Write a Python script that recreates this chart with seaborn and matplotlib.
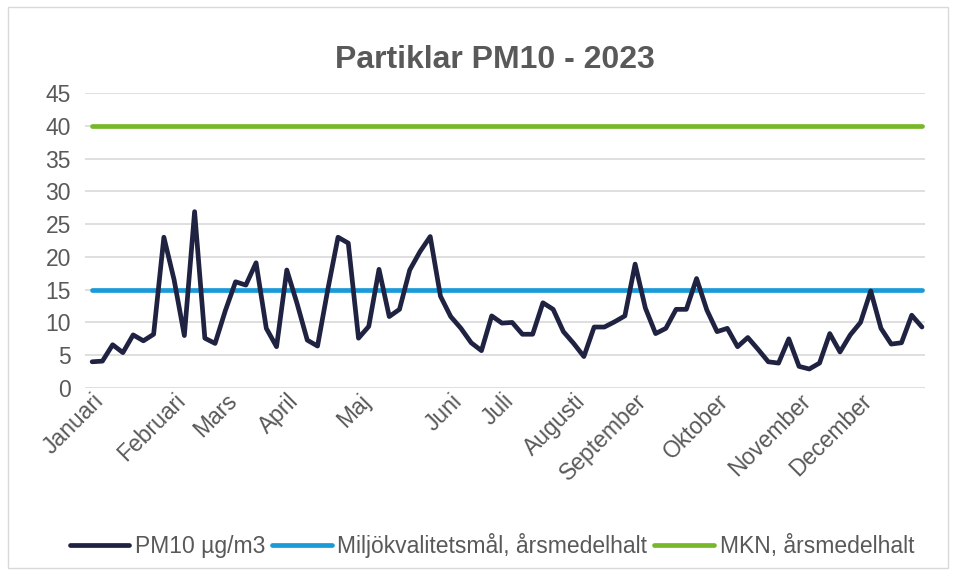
import numpy as np
import pandas as pd
import matplotlib.pyplot as plt
import seaborn as sns
from matplotlib.lines import Line2D
from matplotlib.patches import Rectangle

# PM10 readings (µg/m3)
pm10 = [4.0, 4.1, 6.6, 5.4, 8.1, 7.2, 8.2, 23.0, 16.5, 8.0,
        26.9, 7.6, 6.8, 11.8, 16.2, 15.7, 19.1, 9.1, 6.3, 18.0,
        12.9, 7.3, 6.4, 15.0, 23.0, 22.1, 7.6, 9.4, 18.1, 10.9,
        12.0, 18.0, 20.8, 23.1, 14.0, 10.9, 9.1, 6.9, 5.7, 11.0,
        9.9, 10.0, 8.2, 8.2, 13.0, 12.0, 8.6, 6.8, 4.8, 9.3,
        9.3, 10.1, 11.0, 18.9, 12.2, 8.3, 9.1, 12.0, 12.0, 16.7,
        11.9, 8.6, 9.1, 6.3, 7.7, 5.9, 4.0, 3.8, 7.5, 3.3,
        2.9, 3.8, 8.3, 5.5, 8.1, 10.0, 14.8, 9.1, 6.7, 6.9,
        11.1, 9.3]
miljomal = 15
mkn = 40

months = ["Januari", "Februari", "Mars", "April", "Maj", "Juni", "Juli",
          "Augusti", "September", "Oktober", "November", "December"]
month_idx = [0, 8, 13, 19, 26, 35, 40, 47, 53, 61, 69, 75]

labels = ["PM10 µg/m3", "Miljökvalitetsmål, årsmedelhalt", "MKN, årsmedelhalt"]
colors = ["#1F2241", "#1A9AD7", "#77B82A"]

n = len(pm10)
df = pd.DataFrame({
    "idx": np.tile(np.arange(n), 3),
    "value": pm10 + [miljomal] * n + [mkn] * n,
    "serie": np.repeat(labels, n),
})

sns.set_style("white")
plt.rcParams["font.family"] = ["Liberation Sans", "DejaVu Sans"]

fig = plt.figure(figsize=(9.57, 5.75), dpi=100)
ax = fig.add_axes([0.0888, 0.3252, 0.8778, 0.5131])

sns.lineplot(data=df, x="idx", y="value", hue="serie", hue_order=labels[::-1],
             palette=dict(zip(labels, colors)), linewidth=3.4, legend=False, ax=ax,
             solid_capstyle="round", solid_joinstyle="round")

ax.set_xlim(-0.7, n - 1 + 0.3)
ax.set_ylim(0, 45)
ax.set_yticks(np.arange(0, 46, 5))
ax.yaxis.grid(True, color="#D9D9D9", linewidth=1.2)
ax.set_axisbelow(True)
for s in ax.spines.values():
    s.set_visible(False)
ax.set_xlabel("")
ax.set_ylabel("")
ax.set_xticks(month_idx)
ax.set_xticklabels(months, rotation=45, ha="right", rotation_mode="anchor")
ax.tick_params(axis="both", length=0, labelsize=16.5, labelcolor="#595959")
ax.tick_params(axis="x", pad=1)
ax.tick_params(axis="y", pad=10)

fig.text(0.517, 0.895, "Partiklar PM10 - 2023", ha="center", va="center",
         fontsize=23, fontweight="bold", color="#595959")

handles = [Line2D([0], [0], color=c, lw=3.4) for c in colors]
fig.legend(handles, labels, loc="center", bbox_to_anchor=(0.514, 0.052), ncol=3,
           frameon=False, fontsize=16.5, handlelength=2.6, handletextpad=0.25,
           columnspacing=0.3, labelcolor="#595959")

fig.patches.append(Rectangle((0.008, 0.012), 0.983, 0.976, transform=fig.transFigure,
                             fill=False, edgecolor="#D9D9D9", linewidth=1))

fig.savefig("out.png", dpi=100)
